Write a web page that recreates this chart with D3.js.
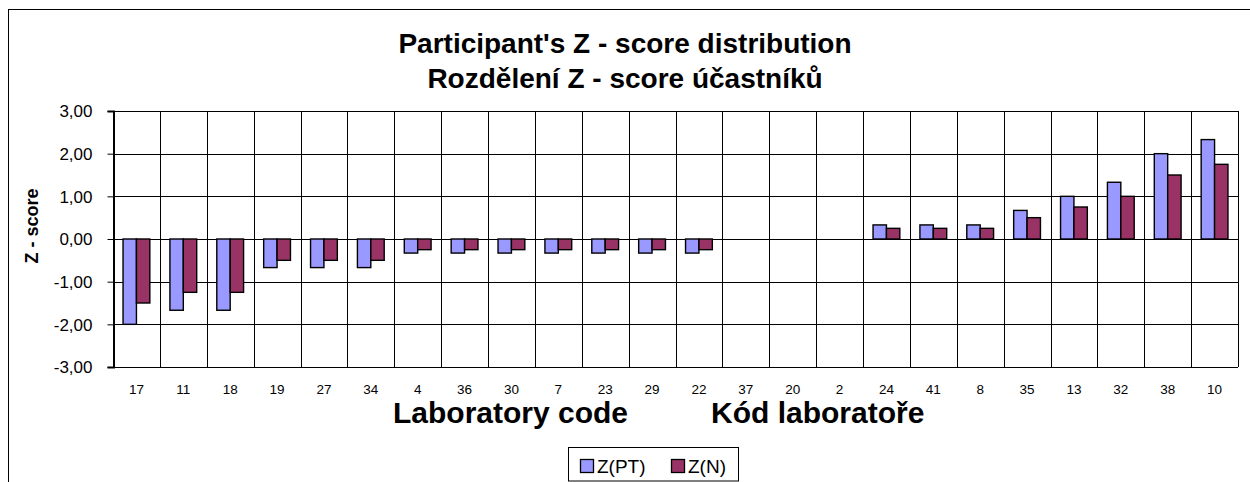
<!DOCTYPE html>
<html>
<head>
<meta charset="utf-8">
<script src="https://cdn.jsdelivr.net/npm/d3@7"></script>
<style>
  body { margin: 0; background: #fff; }
  svg { display: block; font-family: Arial, "Liberation Sans", sans-serif; }
</style>
</head>
<body>
<svg id="chart" width="1250" height="482"></svg>
<script>
// lab codes along the x axis
const labs = ['17', '11', '18', '19', '27', '34', '4', '36', '30', '7', '23', '29', '22',
  '37', '20', '2', '24', '41', '8', '35', '13', '32', '38', '10']

// z-scores
const zPT = [-2.00, -1.67, -1.67, -0.67, -0.67, -0.67, -0.33, -0.33, -0.33, -0.33, -0.33, -0.33, -0.33,
  0, 0, 0, 0.33, 0.33, 0.33, 0.67, 1.00, 1.33, 2.00, 2.33]
const zN = [-1.50, -1.25, -1.25, -0.50, -0.50, -0.50, -0.25, -0.25, -0.25, -0.25, -0.25, -0.25, -0.25,
  0, 0, 0, 0.25, 0.25, 0.25, 0.50, 0.75, 1.00, 1.50, 1.75]

const seriesNames = ['Z(PT)', 'Z(N)']
const yTicks = [-3, -2, -1, 0, 1, 2, 3]

const colors = ['#9999ff', '#993366']

const svg = d3.select('#chart')
const plot = { left: 113, top: 111, right: 1238, bottom: 367 }

// outer chart frame (runs past the window on right/bottom)
svg.append('rect')
  .attr('x', 8.5).attr('y', 9.5)
  .attr('width', 1300).attr('height', 600)
  .attr('fill', 'none').attr('stroke', '#000').attr('stroke-width', 1)

const x = d3.scaleBand().domain(labs).range([plot.left, plot.right])
const x1 = d3.scaleBand().domain(seriesNames).range([0, x.bandwidth()]).paddingInner(0).paddingOuter(0.75)
const y = d3.scaleLinear().domain([-3, 3]).range([plot.bottom, plot.top])

const fmt = v => d3.format('.2f')(v).replace('.', ',').replace('−', '-')

// horizontal gridlines
svg.append('g')
  .selectAll('line')
  .data(yTicks)
  .enter()
  .append('line')
  .attr('x1', plot.left).attr('x2', plot.right)
  .attr('y1', d => Math.round(y(d)) + 0.5).attr('y2', d => Math.round(y(d)) + 0.5)
  .attr('stroke', '#000').attr('stroke-width', 1)

// vertical gridlines between categories
svg.append('g')
  .selectAll('line')
  .data(labs)
  .enter()
  .append('line')
  .attr('x1', d => Math.round(x(d) + x.bandwidth()) + 0.5)
  .attr('x2', d => Math.round(x(d) + x.bandwidth()) + 0.5)
  .attr('y1', plot.top).attr('y2', plot.bottom)
  .attr('stroke', '#000').attr('stroke-width', 1)

// y axis
const yAxis = svg.append('g')
  .attr('transform', `translate(${plot.left + 0.5},0)`)
  .call(d3.axisLeft(y).tickValues(yTicks).tickSize(6).tickPadding(4).tickFormat(fmt))
yAxis.select('.domain').attr('stroke', '#000').attr('stroke-width', 2)
yAxis.selectAll('.tick line').attr('stroke', '#000')
yAxis.selectAll('.tick text')
  .attr('font-size', 17).attr('fill', '#000')
  .attr('font-family', 'Arial, "Liberation Sans", sans-serif')
  .attr('x', -21).attr('dy', '0.34em')

// x tick marks on zero line
svg.append('g')
  .selectAll('line')
  .data(labs)
  .enter()
  .append('line')
  .attr('x1', d => Math.round(x(d)) + 0.5).attr('x2', d => Math.round(x(d)) + 0.5)
  .attr('y1', Math.round(y(0))).attr('y2', Math.round(y(0)) + 4)
  .attr('stroke', '#000')

// bars
const groups = svg.append('g')
  .selectAll('g')
  .data(labs)
  .enter()
  .append('g')
  .attr('transform', d => `translate(${x(d)},0)`)

groups.selectAll('rect')
  .data((d, i) => [zPT[i], zN[i]].map((v, s) => ({ v, s })))
  .enter()
  .filter(d => d.v !== 0)
  .append('rect')
  .attr('x', d => x1(seriesNames[d.s]))
  .attr('width', x1.bandwidth())
  .attr('y', d => Math.min(y(d.v), y(0)))
  .attr('height', d => Math.abs(y(d.v) - y(0)))
  .attr('fill', d => colors[d.s])
  .attr('stroke', '#000').attr('stroke-width', 1.4)

// x labels
svg.append('g')
  .selectAll('text')
  .data(labs)
  .enter()
  .append('text')
  .attr('x', d => x(d) + x.bandwidth() / 2)
  .attr('y', 394)
  .attr('text-anchor', 'middle')
  .attr('font-size', 13.5)
  .text(d => d)

// titles
svg.append('text')
  .attr('x', 625).attr('y', 53)
  .attr('text-anchor', 'middle').attr('font-size', 28).attr('font-weight', 'bold')
  .text("Participant's Z - score distribution")
svg.append('text')
  .attr('x', 625).attr('y', 88)
  .attr('text-anchor', 'middle').attr('font-size', 28).attr('font-weight', 'bold')
  .text('Rozdělení Z - score účastníků')

svg.append('text')
  .attr('x', 393).attr('y', 423)
  .attr('font-size', 30).attr('font-weight', 'bold')
  .text('Laboratory code')
svg.append('text')
  .attr('x', 711).attr('y', 423)
  .attr('font-size', 30).attr('font-weight', 'bold')
  .text('Kód laboratoře')

svg.append('text')
  .attr('transform', 'translate(38,226) rotate(-90)')
  .attr('text-anchor', 'middle').attr('font-size', 18).attr('font-weight', 'bold')
  .text('Z - score')

// legend
const legend = svg.append('g').attr('transform', 'translate(568,447)')
legend.append('rect')
  .attr('x', 0.5).attr('y', 0.5).attr('width', 170).attr('height', 33.5)
  .attr('fill', '#fff').attr('stroke', '#000')
const item = legend.selectAll('g.item')
  .data(seriesNames)
  .enter()
  .append('g')
  .attr('transform', (d, i) => `translate(${[12, 103][i]},0)`)
item.append('rect')
  .attr('x', 0.5).attr('y', 12.5).attr('width', 13).attr('height', 13)
  .attr('fill', (d, i) => colors[i]).attr('stroke', '#000').attr('stroke-width', 1.3)
item.append('text')
  .attr('x', 17).attr('y', 26)
  .attr('font-size', 19)
  .text(d => d)
</script>
</body>
</html>
